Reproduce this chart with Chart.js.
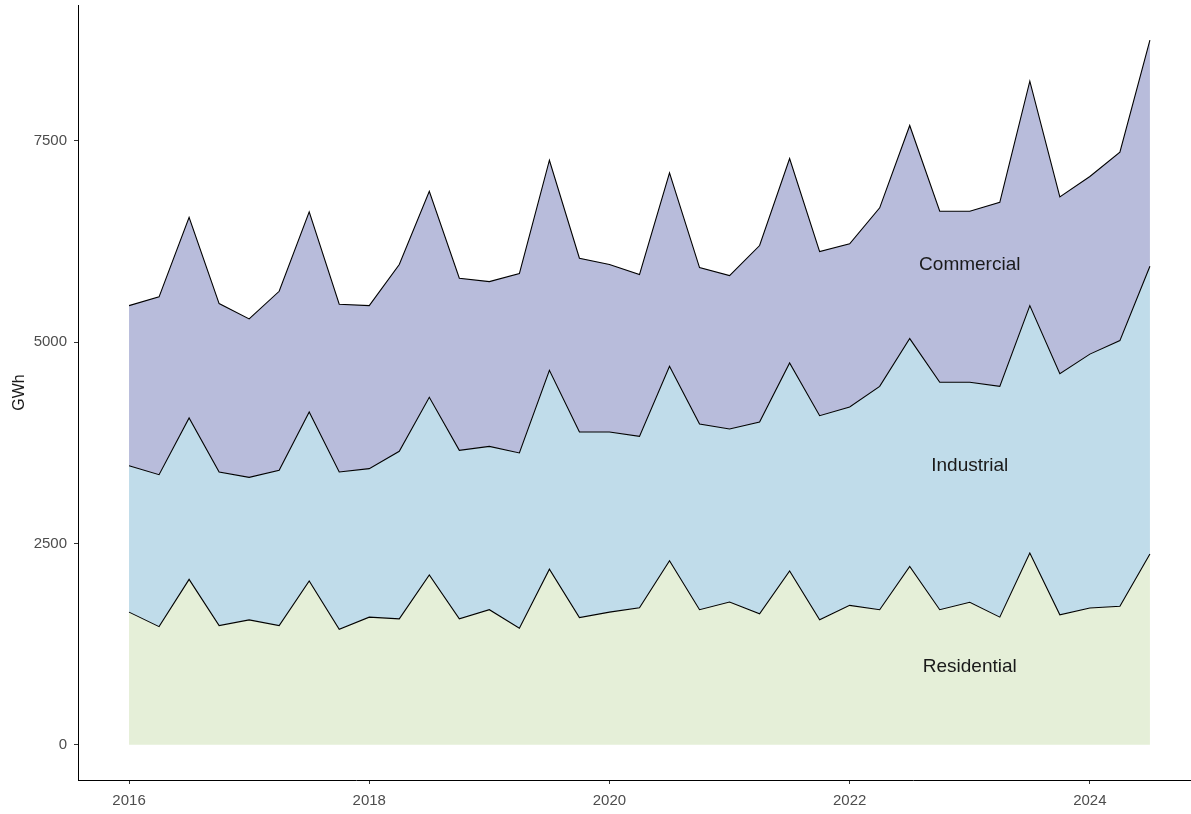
<!DOCTYPE html>
<html>
<head>
<meta charset="utf-8">
<script src="https://cdn.jsdelivr.net/npm/chart.js@4/dist/chart.umd.min.js"></script>
<style>
  html, body { margin: 0; padding: 0; background: #fff; }
  #wrap { width: 1191px; height: 814px; }
</style>
</head>
<body>
<div id="wrap"><canvas id="canvas" width="1191" height="814"></canvas></div>
<script>
"use strict";

// quarterly periods (decimal year)
const quarters = [
  2016, 2016.25, 2016.5, 2016.75,
  2017, 2017.25, 2017.5, 2017.75,
  2018, 2018.25, 2018.5, 2018.75,
  2019, 2019.25, 2019.5, 2019.75,
  2020, 2020.25, 2020.5, 2020.75,
  2021, 2021.25, 2021.5, 2021.75,
  2022, 2022.25, 2022.5, 2022.75,
  2023, 2023.25, 2023.5, 2023.75,
  2024, 2024.25, 2024.5
];

const residential = [
  1647, 1467, 2054, 1480, 1551, 1480, 2033, 1434, 1585, 1564, 2109, 1564,
  1677, 1446, 2180, 1580, 1647, 1700, 2285, 1677, 1773, 1626, 2159, 1551,
  1731, 1677, 2213, 1677, 1769, 1585, 2381, 1614, 1698, 1719, 2368
];

const industrial = [
  1818, 1886, 2004, 1907, 1769, 1927, 2099, 1953, 1843, 2079, 2205, 2091,
  2028, 2177, 2469, 2304, 2237, 2129, 2414, 2306, 2148, 2382, 2582, 2535,
  2463, 2773, 2830, 2823, 2731, 2865, 3071, 2994, 3152, 3299, 3573
];

const commercial = [
  1987, 2208, 2491, 2090, 1967, 2223, 2484, 2082, 2024, 2319, 2558, 2137,
  2045, 2227, 2608, 2156, 2078, 2008, 2402, 1941, 1904, 2190, 2537, 2037,
  2025, 2216, 2645, 2124, 2124, 2285, 2786, 2194, 2205, 2338, 2806
];

const yTicks = [0, 2500, 5000, 7500];
const xTicks = [2016, 2018, 2020, 2022, 2024];

// in-panel labels: [text, x, y]
const areaLabels = [
  ["Commercial", 2023, 5965],
  ["Industrial", 2023, 3465],
  ["Residential", 2023, 965]
];

function toPoints(values) {
  return values.map((v, i) => ({ x: quarters[i], y: v }));
}

const labelPlugin = {
  id: "areaLabels",
  afterDatasetsDraw(chart) {
    const ctx = chart.ctx;
    const xs = chart.scales.x;
    const ys = chart.scales.y;
    ctx.save();
    ctx.font = "19px 'Liberation Sans', Arial, sans-serif";
    ctx.fillStyle = "#1a1a1a";
    ctx.textAlign = "center";
    ctx.textBaseline = "middle";
    areaLabels.forEach(([txt, x, y]) => {
      ctx.fillText(txt, xs.getPixelForValue(x), ys.getPixelForValue(y));
    });
    ctx.restore();
  }
};

const tickFont = { family: "'Liberation Sans', Arial, sans-serif", size: 15 };

new Chart(document.getElementById("canvas").getContext("2d"), {
  type: "line",
  data: {
    datasets: [
      {
        label: "Residential",
        data: toPoints(residential),
        backgroundColor: "#E5EFD8",
        borderColor: "#000000",
        borderWidth: 1.1,
        fill: "origin"
      },
      {
        label: "Industrial",
        data: toPoints(industrial),
        backgroundColor: "#C0DCEA",
        borderColor: "#000000",
        borderWidth: 1.1,
        fill: "-1"
      },
      {
        label: "Commercial",
        data: toPoints(commercial),
        backgroundColor: "#B8BCDB",
        borderColor: "#000000",
        borderWidth: 1.1,
        fill: "-1"
      }
    ]
  },
  options: {
    responsive: false,
    animation: false,
    maintainAspectRatio: false,
    layout: { padding: { top: 5, left: 0, right: 0, bottom: 0 } },
    elements: {
      point: { radius: 0 },
      line: { tension: 0 }
    },
    plugins: {
      legend: { display: false },
      tooltip: { enabled: false }
    },
    scales: {
      x: {
        type: "linear",
        min: 2015.575,
        max: 2024.842,
        afterBuildTicks: s => { s.ticks = xTicks.map(v => ({ value: v })); },
        afterFit: s => {
          s.height = 34;
          s.paddingLeft = 0;
          s.paddingRight = 0;
        },
        border: { display: true, color: "#000", width: 1 },
        grid: { drawOnChartArea: false, drawTicks: true, tickLength: 4, color: "#333" },
        ticks: {
          font: tickFont,
          color: "#4D4D4D",
          padding: 8,
          maxRotation: 0,
          callback: v => String(v)
        }
      },
      y: {
        type: "linear",
        stacked: true,
        min: -437,
        max: 9184,
        afterBuildTicks: s => { s.ticks = yTicks.map(v => ({ value: v })); },
        afterFit: s => {
          s.width = 78;
          s.paddingTop = 0;
          s.paddingBottom = 0;
        },
        border: { display: true, color: "#000", width: 1 },
        grid: { drawOnChartArea: false, drawTicks: true, tickLength: 4, color: "#333" },
        title: {
          display: true,
          text: "GWh",
          font: { family: "'Liberation Sans', Arial, sans-serif", size: 16 },
          color: "#1a1a1a",
          padding: { top: 10, bottom: 0 }
        },
        ticks: {
          font: tickFont,
          color: "#4D4D4D",
          padding: 7,
          callback: v => String(v)
        }
      }
    }
  },
  plugins: [labelPlugin]
});
</script>
</body>
</html>
